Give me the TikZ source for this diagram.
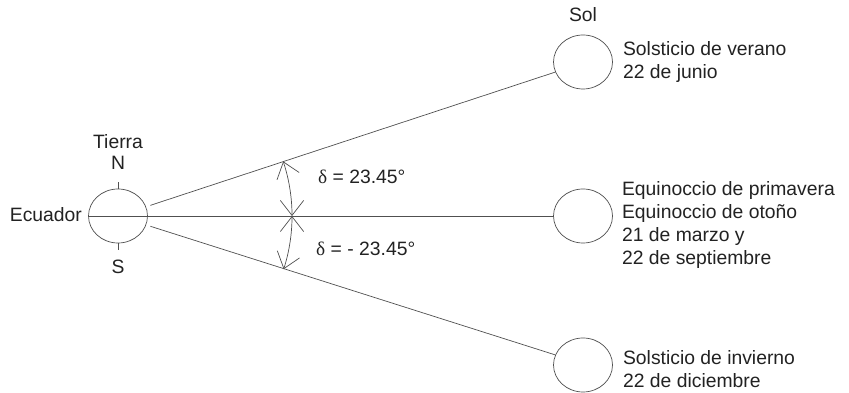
\documentclass[tikz,border=0pt]{standalone}
\usepackage{fontspec}
\setmainfont{Liberation Sans}
\newfontfamily\greekfont{Liberation Serif}
\usetikzlibrary{shapes.geometric, arrows.meta, calc, positioning}
\definecolor{lineagris}{HTML}{505050}
\definecolor{textogris}{HTML}{222222}
\tikzset{
  astro/.style={draw=lineagris, line width=0.6pt, ellipse, minimum width=1.77cm, minimum height=1.62cm, inner sep=0pt},
  rayo/.style={draw=lineagris, line width=0.6pt},
  rotulo/.style={text=textogris, font=\fontsize{16.5}{19.6}\selectfont, inner sep=0pt, align=left},
  flecha/.style={rayo, {Straight Barb[length=4.5mm,width=7mm]}-{Straight Barb[length=4.5mm,width=7mm]}}
}

\begin{document}
\begin{tikzpicture}
  \useasboundingbox (0,0) rectangle (25.47,11.79);
  % Tierra
  \node[astro] (tierra) at (3.54,5.31) {};
  \node[rotulo] (lblTierra) at (3.54,7.53) {Tierra};
  \node[rotulo] (lblN) at (3.54,6.9) {N};
  \node[rotulo] (lblS) at (3.54,3.78) {S};
  \node[rotulo, anchor=east] (lblEcuador) at ($(tierra.west)+(-0.18,0.05)$) {Ecuador};
  \coordinate (polN) at ($(tierra.north)+(0,0.21)$);
  \coordinate (polS) at ($(tierra.south)+(0,-0.21)$);
  \draw[rayo] (tierra.north) -- (polN);
  \draw[rayo] (tierra.south) -- (polS);
  % Sol en las tres posiciones
  \node[astro] (solVerano) at (17.49,9.93) {};
  \node[astro] (solEquinoccio) at (17.49,5.31) {};
  \node[astro] (solInvierno) at (17.49,0.84) {};
  \node[rotulo] (lblSol) at ($(solVerano.north)+(0,0.6)$) {Sol};
  \node[rotulo, anchor=west] (txtVerano) at ($(solVerano.east)+(0.3,0)$) {Solsticio de verano\\22 de junio};
  \node[rotulo, anchor=west] (txtEquinoccio) at ($(solEquinoccio.east)+(0.27,-0.27)$) {Equinoccio de primavera\\Equinoccio de otoño\\21 de marzo y\\22 de septiembre};
  \node[rotulo, anchor=west] (txtInvierno) at ($(solInvierno.east)+(0.3,-0.12)$) {Solsticio de invierno\\22 de diciembre};
  % rayos
  \coordinate (iniVerano) at ($(tierra.center)!1.02cm!(solVerano.200)$);
  \coordinate (iniInvierno) at ($(tierra.center)!1.02cm!(solInvierno.160)$);
  \draw[rayo] (tierra.west) -- (solEquinoccio.west);
  \draw[rayo] (iniVerano) -- (solVerano.200);
  \draw[rayo] (iniInvierno) -- (solInvierno.160);
  % declinacion
  \coordinate (arcoMedio) at ($(tierra.center)+(5.22,0)$);
  \draw[flecha] (arcoMedio) arc[start angle=0, end angle=18.3, radius=5.22];
  \draw[flecha] (arcoMedio) arc[start angle=0, end angle=-17.8, radius=5.22];
  \node[rotulo, anchor=west] (lblDeltaN) at (9.54,6.48) {{\greekfont δ} = 23.45°};
  \node[rotulo, anchor=west] (lblDeltaS) at (9.48,4.32) {{\greekfont δ} = - 23.45°};
\end{tikzpicture}
\end{document}
